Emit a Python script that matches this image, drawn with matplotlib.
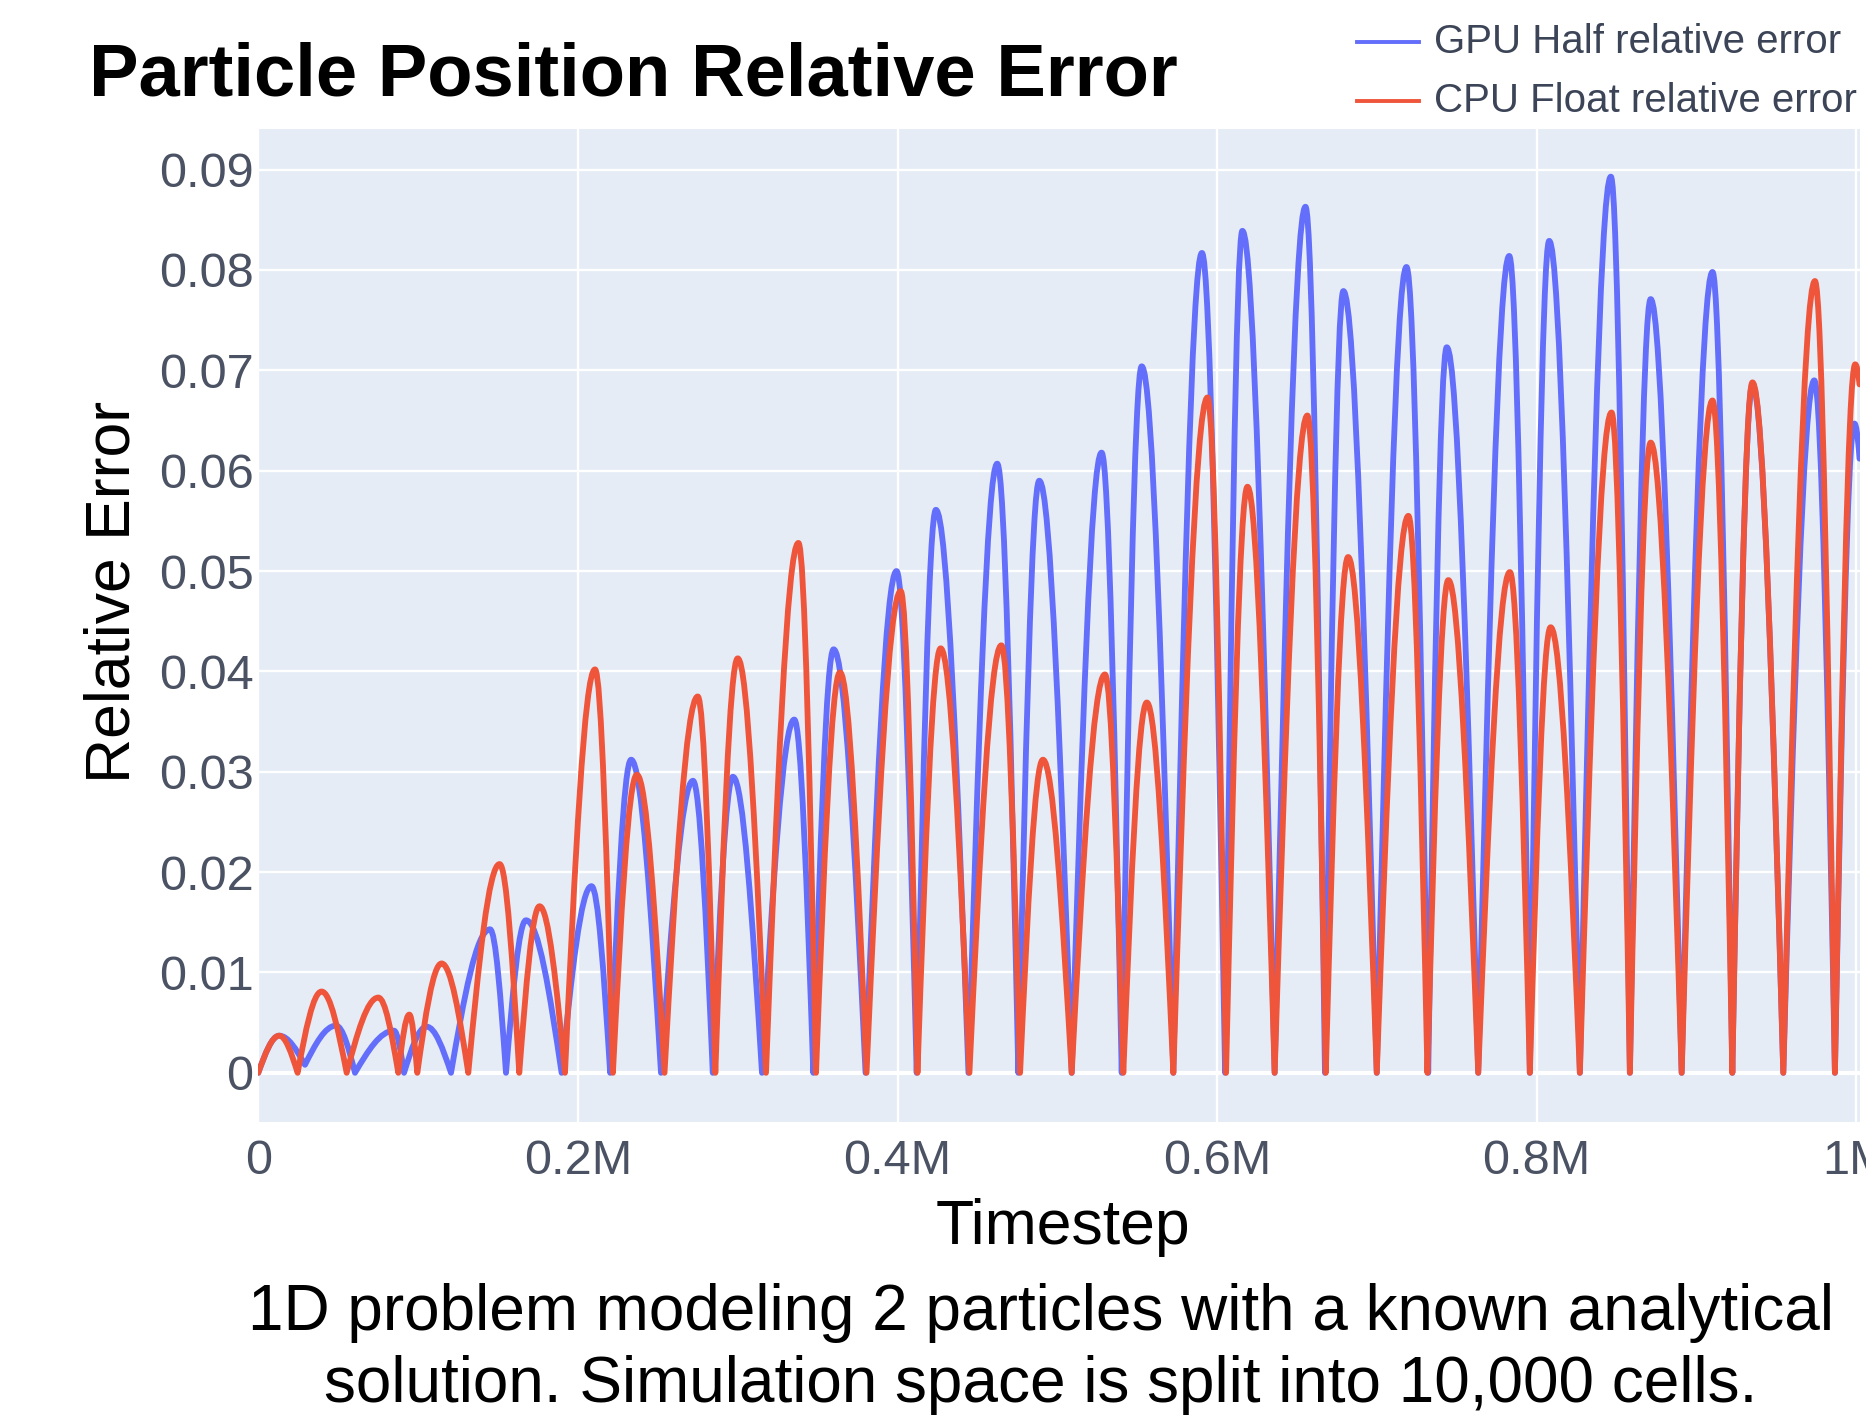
import matplotlib
matplotlib.use("Agg")
import matplotlib.pyplot as plt
from matplotlib.path import Path
from matplotlib.patches import PathPatch
from matplotlib.lines import Line2D

plt.rcParams['font.family'] = ['Liberation Sans', 'DejaVu Sans']

# ---------------- data (x in millions of timesteps) ----------------
# CPU Float relative error: alternating minima and maxima
cpu_min_x = [0, 0.0246, 0.0553, 0.0876, 0.0995, 0.1314, 0.1633, 0.1919, 0.2219, 0.2542,
             0.2860, 0.3177, 0.3490, 0.3806, 0.4125, 0.4450, 0.4767, 0.5090, 0.5413, 0.5726,
             0.6056, 0.6360, 0.6680, 0.6999, 0.7316, 0.7634, 0.7957, 0.8270, 0.8583, 0.8907,
             0.9224, 0.9543, 0.9866]
cpu_min_y = [0.0] * 33
cpu_max_x = [0.0131, 0.0396, 0.0751, 0.0945, 0.1147, 0.1510, 0.1760, 0.2107, 0.2369, 0.2750,
             0.3000, 0.3380, 0.3640, 0.4020, 0.4270, 0.4650, 0.4910, 0.5298, 0.5560, 0.5940,
             0.6190, 0.6565, 0.6820, 0.7197, 0.7447, 0.7832, 0.8087, 0.8468, 0.8713, 0.9100,
             0.9350, 0.9741, 0.9993]
cpu_max_y = [0.0037, 0.0081, 0.0075, 0.0058, 0.0109, 0.0208, 0.0166, 0.0402, 0.0297, 0.0375,
             0.0413, 0.0528, 0.0399, 0.0480, 0.0423, 0.0426, 0.0312, 0.0397, 0.0369, 0.0673,
             0.0584, 0.0655, 0.0514, 0.0555, 0.0491, 0.0499, 0.0444, 0.0658, 0.0628, 0.0670,
             0.0688, 0.0789, 0.0706]
cpu_end = (1.0020, 0.0686)

# GPU Half relative error
gpu_min_x = [0, 0.0292, 0.0605, 0.0912, 0.1206, 0.1550, 0.1898, 0.2202, 0.2520, 0.2844,
             0.3152, 0.3473, 0.3800, 0.4120, 0.4444, 0.4756, 0.5090, 0.5403, 0.5726, 0.6050,
             0.6360, 0.6675, 0.6999, 0.7321, 0.7634, 0.7957, 0.8270, 0.8583, 0.8907, 0.9224,
             0.9543, 0.9866]
gpu_min_y = [0.0, 0.0008] + [0.0] * 30
gpu_max_x = [0.0131, 0.0486, 0.0849, 0.1053, 0.1450, 0.1675, 0.2085, 0.2333, 0.2720, 0.2970,
             0.3354, 0.3600, 0.3994, 0.4240, 0.4624, 0.4887, 0.5277, 0.5528, 0.5905, 0.6158,
             0.6553, 0.6790, 0.7185, 0.7437, 0.7828, 0.8078, 0.8464, 0.8713, 0.9100, 0.9350,
             0.9737, 0.9988]
gpu_max_y = [0.0037, 0.0047, 0.0042, 0.0046, 0.0143, 0.0152, 0.0186, 0.0312, 0.0291, 0.0295,
             0.0352, 0.0422, 0.0500, 0.0561, 0.0607, 0.0590, 0.0618, 0.0704, 0.0817, 0.0839,
             0.0863, 0.0779, 0.0803, 0.0723, 0.0814, 0.0829, 0.0893, 0.0771, 0.0798, 0.0686,
             0.0690, 0.0647]
gpu_end = (1.0020, 0.0612)

x_ticks = [0, 0.2, 0.4, 0.6, 0.8, 1.0]
x_tick_labels = ['0', '0.2M', '0.4M', '0.6M', '0.8M', '1M']
y_ticks = [0, 0.01, 0.02, 0.03, 0.04, 0.05, 0.06, 0.07, 0.08, 0.09]
y_tick_labels = ['0', '0.01', '0.02', '0.03', '0.04', '0.05', '0.06', '0.07', '0.08', '0.09']

series_names = ['GPU Half relative error', 'CPU Float relative error']
colors = ['#636EFA', '#EF553B']


def arch_path(min_x, min_y, max_x, max_y, end):
    """Smooth curve through alternating minima / maxima (rounded tops, sharp troughs)."""
    pts = []
    for i in range(len(min_x)):
        pts.append((min_x[i], min_y[i], 'min'))
        if i < len(max_x):
            pts.append((max_x[i], max_y[i], 'max'))
    pts.append((end[0], end[1], 'end'))
    verts = [(pts[0][0], pts[0][1])]
    codes = [Path.MOVETO]
    for (xa, ya, ka), (xb, yb, kb) in zip(pts[:-1], pts[1:]):
        dx = xb - xa
        if kb == 'max':  # rising: steep at trough, flat at top
            c1 = (xa + 0.331 * dx, ya + 0.52 * (yb - ya))
            c2 = (xa + 0.65 * dx, yb)
        elif kb == 'min':  # falling: flat at top, steep at trough
            c1 = (xa + 0.35 * dx, ya)
            c2 = (xa + 0.669 * dx, yb + 0.52 * (ya - yb))
        else:  # partial fall after last top
            c1 = (xa + dx / 3, ya)
            c2 = (xa + 2 * dx / 3, ya - (ya - yb) / 3)
        verts += [c1, c2, (xb, yb)]
        codes += [Path.CURVE4] * 3
    return Path(verts, codes)


W, H = 1866, 1418
fig = plt.figure(figsize=(W / 100, H / 100), dpi=100)
fig.patch.set_facecolor('white')

ax_l, ax_r, ax_t, ax_b = 258.3, 1860, 128.5, 1122
ax = fig.add_axes([ax_l / W, 1 - ax_b / H, (ax_r - ax_l) / W, (ax_b - ax_t) / H])
ax.set_facecolor('#E5ECF6')
ax.set_xlim(0, 1.0023)
ax.set_ylim(-0.0049, 0.0941)

for s in ax.spines.values():
    s.set_visible(False)

ax.set_xticks(x_ticks)
ax.set_xticklabels(x_tick_labels)
ax.set_yticks(y_ticks)
ax.set_yticklabels(y_tick_labels)
ax.tick_params(length=0, labelsize=35, colors='#4a5263')
ax.tick_params(axis='x', pad=12)
ax.tick_params(axis='y', pad=3.5)
ax.grid(True, color='white', linewidth=1.7)
ax.set_axisbelow(True)
ax.axhline(0, color='white', linewidth=3.0, zorder=1)

paths = [arch_path(gpu_min_x, gpu_min_y, gpu_max_x, gpu_max_y, gpu_end),
         arch_path(cpu_min_x, cpu_min_y, cpu_max_x, cpu_max_y, cpu_end)]
for p, c, z in zip(paths, colors, [3, 4]):
    ax.add_patch(PathPatch(p, facecolor='none', edgecolor=c, linewidth=4.2,
                           joinstyle='round', capstyle='round', zorder=z))

# legend (top right, outside plot area)
for i, (name, c) in enumerate(zip(series_names, colors)):
    yc = 1 - (41.6 + 59.5 * i) / H
    fig.add_artist(Line2D([1357 / W, 1419 / W], [yc, yc], transform=fig.transFigure,
                          color=c, linewidth=2.8))
    fig.text(1434 / W, yc, name, fontsize=29, color='#3c4457', va='center', ha='left')

# titles
fig.text(89 / W, 1 - 95 / H, 'Particle Position Relative Error', fontsize=53.5,
         fontweight='bold', color='black', va='baseline', ha='left')
fig.text(113 / W, 1 - 592 / H, 'Relative Error', fontsize=45, rotation=90,
         color='black', va='center', ha='center')
fig.text(1063 / W, 1 - 1243.6 / H, 'Timestep', fontsize=45, color='black',
         va='baseline', ha='center')
fig.text(1041 / W, 1 - 1330 / H, '1D problem modeling 2 particles with a known analytical',
         fontsize=46, color='black', va='baseline', ha='center')
fig.text(1041 / W, 1 - 1402 / H, 'solution. Simulation space is split into 10,000 cells.',
         fontsize=46, color='black', va='baseline', ha='center')

fig.savefig('out.png', dpi=100)
